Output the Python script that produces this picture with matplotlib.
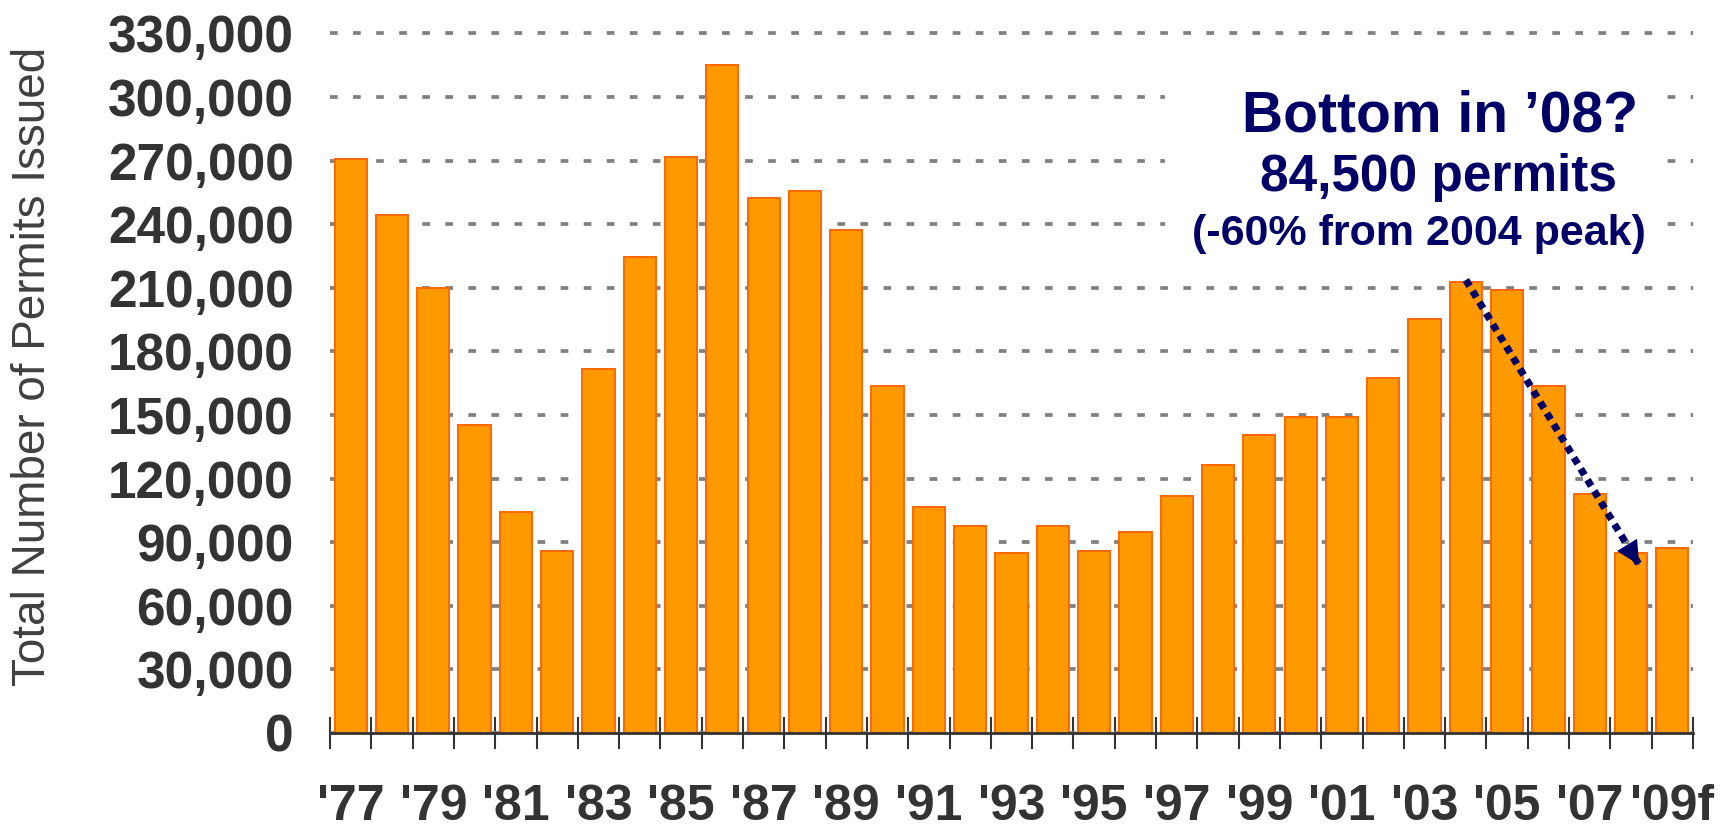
import numpy as np
import matplotlib
matplotlib.use("Agg")
import matplotlib.pyplot as plt
from matplotlib.patches import Rectangle
from matplotlib.ticker import FuncFormatter

plt.rcParams['font.family'] = ['Liberation Sans', 'DejaVu Sans']

# ====== Data ======
years = ["'77", "'78", "'79", "'80", "'81", "'82", "'83", "'84", "'85", "'86",
         "'87", "'88", "'89", "'90", "'91", "'92", "'93", "'94", "'95", "'96",
         "'97", "'98", "'99", "'00", "'01", "'02", "'03", "'04", "'05", "'06",
         "'07", "'08", "'09f"]
permits = [270600, 244500, 210000, 145300, 104400, 85700, 171900, 224600, 271700, 314900,
           252500, 255500, 237400, 163600, 106400, 97500, 84900, 97500, 85700, 94600,
           111900, 126200, 140800, 149000, 149000, 167300, 195400, 212700, 209000, 163700,
           112800, 84700, 87500]
y_ticks = list(range(0, 330001, 30000))

note_title = "Bottom in \u201908?"
note_line2 = "84,500 permits"
note_line3 = "(-60% from 2004 peak)"

# arrow from the 2004 peak down to 2008
arrow_start = (27, 213700)
arrow_tip = (31.2, 79200)

W, H = 1720, 831
navy = '#000066'
dark = '#333333'

# ====== Plot ======
fig = plt.figure(figsize=(W / 100, H / 100), dpi=100)
ax = fig.add_axes([330 / W, 1 - 733 / H, (1693 - 330) / W, (733 - 12.2) / H])

x = np.arange(len(years))
ax.bar(x, permits, width=0.78, color='#FF9900', edgecolor='#FF6600', linewidth=1.4, zorder=2)

ax.set_xlim(-0.5, len(years) - 0.5)
ax.set_ylim(0, 340000)
ax.set_axisbelow(True)
ax.yaxis.grid(True, color='#808080', linewidth=2.7, linestyle=(0, (2.05, 4.1)))

for s in ['top', 'right', 'left']:
    ax.spines[s].set_visible(False)
ax.spines['bottom'].set_color(dark)
ax.spines['bottom'].set_linewidth(2)
ax.spines['bottom'].set_zorder(3)

ax.set_yticks(y_ticks)
ax.yaxis.set_major_formatter(FuncFormatter(lambda v, p: f"{int(v):,}"))
ax.tick_params(axis='y', length=0, pad=26, labelsize=37, labelcolor=dark)
for t in ax.get_yticklabels():
    t.set_fontweight('bold')

ax.set_xticks(x[::2])
ax.set_xticklabels(years[::2], fontsize=36, fontweight='bold', color=dark)
ax.set_xticks(np.arange(-0.5, len(years), 1), minor=True)
ax.tick_params(axis='x', which='major', length=0, pad=37)
ax.tick_params(axis='x', which='minor', length=23, width=1.5, direction='inout', color=dark)

fig.text(33 / W, 1 - 366 / H, "Total Number of Permits Issued", rotation=90,
         fontsize=33, color='#404040', ha='center', va='center')

# white box behind the note hides the gridlines
ax.add_patch(Rectangle((1165 / W, 1 - 255 / H), 500 / W, 180 / H, transform=fig.transFigure,
                       facecolor='white', edgecolor='none', zorder=0.8))

fig.text(1440 / W, 1 - 132 / H, note_title, fontsize=41, fontweight='bold', color=navy,
         ha='center', va='baseline')
fig.text(1439 / W, 1 - 191 / H, note_line2, fontsize=37, fontweight='bold', color=navy,
         ha='center', va='baseline')
fig.text(1419 / W, 1 - 245 / H, note_line3, fontsize=31, fontweight='bold', color=navy,
         ha='center', va='baseline')

# dotted shaft
ax.plot([arrow_start[0], arrow_tip[0]], [arrow_start[1], arrow_tip[1]], color=navy,
        lw=5.2, linestyle=(0, (1, 0.8)), dash_capstyle='butt', zorder=4)
# solid head
dx = arrow_tip[0] - arrow_start[0]
dy = arrow_tip[1] - arrow_start[1]
ax.annotate('', xy=arrow_tip, xytext=(arrow_tip[0] - 0.2 * dx, arrow_tip[1] - 0.2 * dy),
            arrowprops=dict(arrowstyle='-|>,head_length=0.85,head_width=0.42', mutation_scale=20,
                            lw=0, color=navy, shrinkA=0, shrinkB=0), zorder=5)

fig.savefig('out.png', dpi=100)
